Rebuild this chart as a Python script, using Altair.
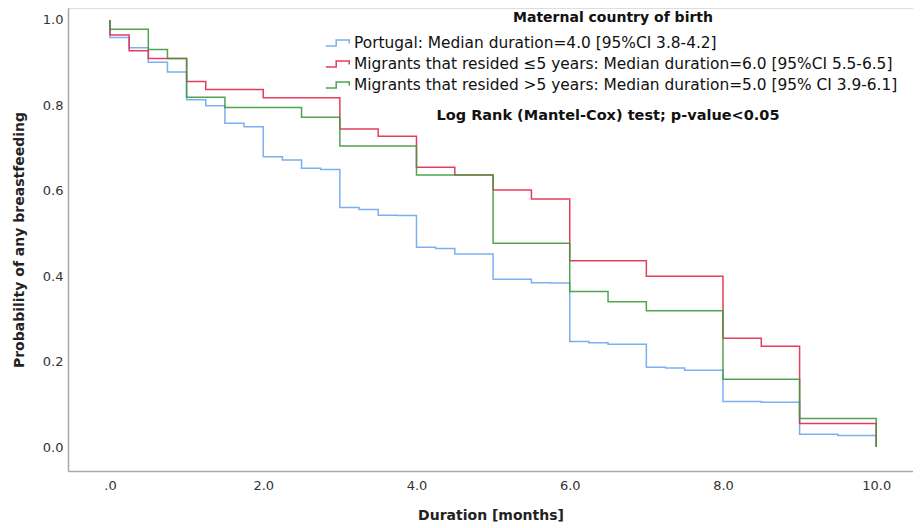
import altair as alt
import pandas as pd

# ---- data ----
lab_pt = "Portugal: Median duration=4.0 [95%CI 3.8-4.2]"
lab_m1 = "Migrants that resided ≤5 years: Median duration=6.0 [95%CI 5.5-6.5]"
lab_m2 = "Migrants that resided >5 years: Median duration=5.0 [95% CI 3.9-6.1]"

pt_t = [0, 0, 0.25, 0.5, 0.75, 1.0, 1.25, 1.5, 1.75, 2.0, 2.25, 2.5, 2.75, 3.0, 3.25, 3.5, 3.75,
        4.0, 4.25, 4.5, 5.0, 5.5, 5.75, 6.0, 6.25, 6.5, 7.0, 7.25, 7.5, 8.0, 8.5, 9.0, 9.5, 10.0]
pt_v = [1.0, 0.959, 0.935, 0.901, 0.878, 0.813, 0.799, 0.758, 0.750, 0.680, 0.672, 0.653, 0.650,
        0.561, 0.556, 0.543, 0.542, 0.468, 0.465, 0.452, 0.393, 0.385, 0.384, 0.247, 0.244, 0.241,
        0.187, 0.185, 0.180, 0.107, 0.105, 0.030, 0.027, 0.0]

m1_t = [0, 0, 0.25, 0.5, 1.0, 1.25, 2.0, 3.0, 3.5, 4.0, 4.5, 5.0, 5.5, 6.0, 7.0, 8.0, 8.5, 9.0, 10.0]
m1_v = [1.0, 0.965, 0.928, 0.910, 0.856, 0.837, 0.818, 0.745, 0.728, 0.655, 0.637, 0.602, 0.581,
        0.436, 0.400, 0.255, 0.236, 0.055, 0.0]

m2_t = [0, 0, 0.5, 0.75, 1.0, 1.5, 2.5, 3.0, 4.0, 5.0, 6.0, 6.5, 7.0, 8.0, 9.0, 10.0]
m2_v = [1.0, 0.978, 0.931, 0.910, 0.819, 0.795, 0.772, 0.705, 0.637, 0.477, 0.364, 0.340,
        0.319, 0.159, 0.067, 0.0]

series_labels = [lab_pt, lab_m1, lab_m2]
series_colors = ["#6ea6ef", "#e3284d", "#3e9a3e"]
legend_title = "Maternal country of birth"
note_text = "Log Rank (Mantel-Cox) test; p-value<0.05"
x_title = "Duration [months]"
y_title = "Probability of any breastfeeding"
x_ticks = [0, 2, 4, 6, 8, 10]
y_ticks = [0.0, 0.2, 0.4, 0.6, 0.8, 1.0]

rows = []
for lab, ts, vs in [(lab_pt, pt_t, pt_v), (lab_m1, m1_t, m1_v), (lab_m2, m2_t, m2_v)]:
    for i, (t, v) in enumerate(zip(ts, vs)):
        rows.append({"series": lab, "t": t, "v": v, "ord": i})
df = pd.DataFrame(rows)

FONT = "DejaVu Sans"
step_path = "M-1.35,0.33 L-0.2,0.33 L-0.2,-0.33 L1.25,-0.33 L1.25,0.05"

lines = alt.Chart(df).mark_line(interpolate="step-after", strokeWidth=1.5, opacity=0.9).encode(
    x=alt.X("t:Q",
            scale=alt.Scale(domain=[-0.548, 10.48], nice=False, zero=False),
            axis=alt.Axis(title=x_title, values=x_ticks,
                          labelExpr="datum.value == 0 ? '.0' : format(datum.value, '.1f')",
                          grid=False, ticks=False, labelPadding=8, titlePadding=16,
                          labelFont=FONT, labelFontSize=13, labelColor="#333333",
                          titleFont=FONT, titleFontSize=14, titleFontWeight="bold",
                          titleColor="#222222",
                          domainColor="#a8a8a8", domainWidth=1.5)),
    y=alt.Y("v:Q",
            scale=alt.Scale(domain=[-0.056, 1.028], nice=False, zero=False),
            axis=alt.Axis(title=y_title, values=y_ticks, format=".1f",
                          grid=False, ticks=False, labelPadding=5, titlePadding=16,
                          labelFont=FONT, labelFontSize=13, labelColor="#333333",
                          titleFont=FONT, titleFontSize=14, titleFontWeight="bold",
                          titleColor="#222222",
                          domainColor="#a8a8a8", domainWidth=1.5)),
    color=alt.Color("series:N",
                    scale=alt.Scale(domain=series_labels, range=series_colors),
                    sort=series_labels,
                    legend=alt.Legend(title=legend_title, orient="none",
                                      legendX=260, legendY=3,
                                      titleAnchor="middle", titleFont=FONT,
                                      titleFontSize=14, titleFontWeight="bold",
                                      titleColor="#111111", titlePadding=8, titleLimit=800,
                                      labelFont=FONT, labelFontSize=15.4, labelColor="#111111",
                                      symbolType=step_path, symbolSize=324,
                                      symbolStrokeWidth=1.5, symbolFillColor="transparent",
                                      rowPadding=2, labelOffset=6, padding=0,
                                      labelLimit=800)),
    order="ord:Q",
    detail="series:N",
)

note = alt.Chart(pd.DataFrame({"txt": [note_text]})).mark_text(
    font=FONT, fontSize=14.5, fontWeight="bold", color="#111111", align="center", baseline="middle"
).encode(text="txt:N", x=alt.value(540), y=alt.value(108))

chart = alt.layer(lines, note).properties(
    width=845, height=463,
    padding={"left": 60, "top": 0, "right": 0, "bottom": 56},
    autosize=alt.AutoSizeParams(type="none"),
).configure_view(stroke=None).configure(background="white")

chart.save("out.html", embed_options={"renderer": "svg", "actions": False})
